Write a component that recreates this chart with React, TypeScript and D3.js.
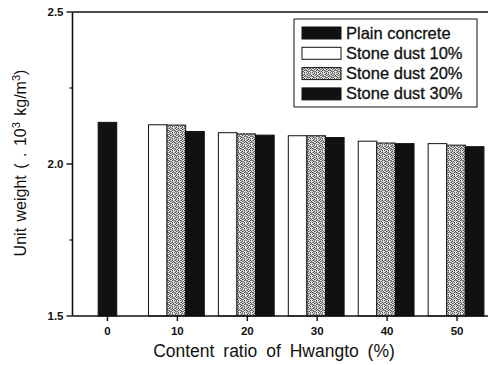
import React from 'react';
import * as d3 from 'd3';

// Content ratio of Hwangto (%)
const categories = [0, 10, 20, 30, 40, 50];
const plainConcrete = [2.137, null, null, null, null, null];
const stoneDust10 = [null, 2.129, 2.103, 2.093, 2.075, 2.067];
const stoneDust20 = [null, 2.128, 2.099, 2.093, 2.069, 2.062];
const stoneDust30 = [null, 2.107, 2.095, 2.087, 2.067, 2.057];
const yTicks = [1.5, 2.0, 2.5];
const yMinorTicks = [1.75, 2.25];
const legendLabels = ['Plain concrete', 'Stone dust 10%', 'Stone dust 20%', 'Stone dust 30%'];

const W = 488;
const H = 365;
const FONT = '"Liberation Sans", Arial, sans-serif';

// halftone-like dither for the 20% series (d = dark, l = light, m = mid)
const DITHER = [
  'dlmldl',
  'lmdlml',
  'mdlmdl',
  'lldmld',
  'dmlldm',
  'ldmdll',
];
const ditherColor: Record<string, string> = { d: '#555', m: '#999', l: '#e4e4e4' };

const App = () => {
  const x = d3.scaleLinear().domain([-5, 55]).range([72.5, 492]);
  const y = d3.scaleLinear().domain([1.5, 2.5]).range([316, 12]);
  const barW = 18.6;

  const fills = ['#111', '#fff', 'url(#dither)', '#111'];

  // plain bar centred on its tick, stone dust bars in groups of three
  const bars: { x: number; v: number; s: number }[] = [];
  categories.forEach((c, i) => {
    if (plainConcrete[i] != null) bars.push({ x: x(c) - barW / 2, v: plainConcrete[i] as number, s: 0 });
    [stoneDust10, stoneDust20, stoneDust30].forEach((ser, k) => {
      const v = ser[i];
      if (v != null) bars.push({ x: x(c) - barW * 1.5 + k * barW - 1, v, s: k + 1 });
    });
  });

  const legendRow = (i: number) => 33 + i * 20.3;

  return (
    <svg width={W} height={H} style={{ position: 'absolute', left: 0, top: 0, background: '#fff' }}>
      <defs>
        <pattern id="dither" width="6" height="6" patternUnits="userSpaceOnUse">
          {DITHER.map((row, r) =>
            row.split('').map((ch, c) => (
              <rect key={`${r}-${c}`} x={c} y={r} width={1} height={1} fill={ditherColor[ch]} />
            ))
          )}
        </pattern>
      </defs>

      {bars.map((b, i) => (
        <rect
          key={i}
          x={b.x}
          y={y(b.v)}
          width={barW}
          height={y(1.5) - y(b.v)}
          fill={fills[b.s]}
          stroke="#111"
          strokeWidth={1}
        />
      ))}

      {/* frame */}
      <line x1={x(-5)} x2={W} y1={y(2.5)} y2={y(2.5)} stroke="#111" strokeWidth={1.6} />
      <line x1={x(-5)} x2={W} y1={y(1.5)} y2={y(1.5)} stroke="#111" strokeWidth={1.6} />
      <line x1={x(-5)} x2={x(-5)} y1={y(2.5)} y2={y(1.5)} stroke="#111" strokeWidth={1.6} />

      {/* y ticks */}
      {yTicks.map(t => (
        <g key={t}>
          <line x1={x(-5) - 6} x2={x(-5)} y1={y(t)} y2={y(t)} stroke="#111" strokeWidth={1.4} />
          <text x={x(-5) - 9} y={y(t) + 4} textAnchor="end" fontFamily={FONT} fontWeight="bold" fontSize={11.5} fill="#111">
            {t.toFixed(1)}
          </text>
        </g>
      ))}
      {yMinorTicks.map(t => (
        <line key={t} x1={x(-5) - 3} x2={x(-5)} y1={y(t)} y2={y(t)} stroke="#111" strokeWidth={1.2} />
      ))}

      {/* x ticks */}
      {categories.map(c => (
        <g key={c}>
          <line x1={x(c)} x2={x(c)} y1={y(1.5)} y2={y(1.5) + 5} stroke="#111" strokeWidth={1.4} />
          <text x={x(c)} y={y(1.5) + 19} textAnchor="middle" fontFamily={FONT} fontWeight="bold" fontSize={11.5} fill="#111">
            {c}
          </text>
        </g>
      ))}

      {/* axis titles */}
      <text x={274} y={357} textAnchor="middle" fontFamily={FONT} fontSize={17.5} wordSpacing={4} fill="#111">
        Content ratio of Hwangto (%)
      </text>
      <text
        transform={`translate(26,${163}) rotate(-90)`}
        textAnchor="middle"
        fontFamily={FONT}
        fontSize={16}
        wordSpacing={2}
        fill="#111"
      >
        Unit weight ( . 10<tspan fontSize={11} dy={-6}>3</tspan><tspan dy={6}> kg/m</tspan><tspan fontSize={11} dy={-6}>3</tspan><tspan dy={6}>)</tspan>
      </text>

      {/* legend */}
      <rect x={294} y={19} width={183} height={88} fill="#fff" stroke="#111" strokeWidth={1} />
      {legendLabels.map((l, i) => (
        <g key={l}>
          <rect x={302} y={legendRow(i) - 6} width={39} height={12} fill={fills[i]} stroke="#111" strokeWidth={1} />
          <text x={346} y={legendRow(i) + 5.5} fontFamily={FONT} fontSize={16.5} stroke="#111" strokeWidth={0.3} fill="#111">
            {l}
          </text>
        </g>
      ))}
    </svg>
  );
};

export default App;
